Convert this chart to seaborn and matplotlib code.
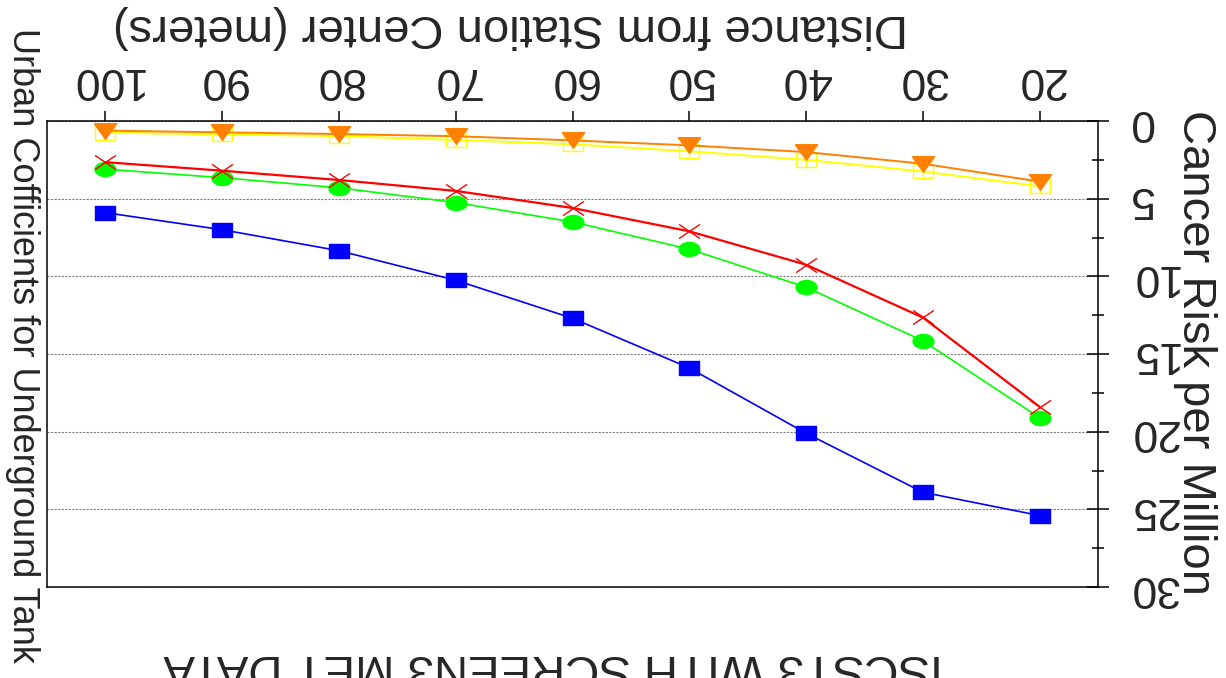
import matplotlib
matplotlib.use("Agg")
import matplotlib.pyplot as plt
import seaborn as sns
from matplotlib.path import Path
from matplotlib.transforms import Affine2D
from matplotlib.ticker import MultipleLocator

# ---------------- data ----------------
distance = [20, 30, 40, 50, 60, 70, 80, 90, 100]
risk_blue = [25.4, 23.9, 20.1, 15.9, 12.7, 10.25, 8.35, 7.0, 5.9]
risk_green = [19.1, 14.15, 10.7, 8.25, 6.5, 5.25, 4.3, 3.65, 3.1]
risk_red = [18.4, 12.65, 9.25, 7.1, 5.6, 4.5, 3.8, 3.2, 2.65]
risk_yellow = [4.2, 3.25, 2.5, 1.95, 1.5, 1.22, 0.97, 0.86, 0.75]
risk_orange = [3.9, 2.75, 2.0, 1.57, 1.25, 0.98, 0.84, 0.73, 0.62]

x_ticks = [20, 30, 40, 50, 60, 70, 80, 90, 100]
y_ticks = [0, 5, 10, 15, 20, 25, 30]

title_text = "ISCST3 WITH SCREEN3 MET DATA"
subtitle_text = "Urban Cofficients for Underground Tank"
x_label = "Distance from Station Center (meters)"
y_label = "Cancer Risk per Million"

# ---------------- style ----------------
sns.set_style("white")
plt.rcParams["font.family"] = ["Liberation Sans", "DejaVu Sans"]

W, H = 1226, 678
fig = plt.figure(figsize=(W / 100, H / 100), dpi=100)
ax = fig.add_axes([47 / W, 1 - 587 / H, (1098 - 47) / W, (587 - 121) / H])

M, L, C = Path.MOVETO, Path.LINETO, Path.CLOSEPOLY
square = Path([(-1, -0.72), (1, -0.72), (1, 0.72), (-1, 0.72), (-1, -0.72)], [M, L, L, L, C])
box_cross = Path([(-1, -0.7), (1, -0.7), (1, 0.7), (-1, 0.7), (-1, -0.7), (0, -0.7), (0, 0.7)],
                 [M, L, L, L, C, M, L])
x_mark = Path([(-1, -0.68), (1, 0.68), (-1, 0.68), (1, -0.68)], [M, L, M, L])
ellipse = Path.unit_circle().transformed(Affine2D().scale(1, 0.68))
tri_down = Path([(-1, 0.7), (1, 0.7), (0, -0.7), (-1, 0.7)], [M, L, L, C])

series = [
    (risk_blue, "#0000ff", square, 15, "#0000ff", 1.2, 3),
    (risk_green, "#00ff00", ellipse, 15, "#00ff00", 1.2, 4),
    (risk_red, "#ff0000", x_mark, 15, "none", 1.6, 5),
    (risk_yellow, "#ffff00", box_cross, 15, "none", 1.4, 6),
    (risk_orange, "#ff8000", tri_down, 16, "#ff8000", 1.4, 7),
]
for vals, col, mk, ms, mfc, lw, z in series:
    sns.lineplot(x=distance, y=vals, ax=ax, color=col, lw=lw, marker=mk,
                 markersize=ms, markerfacecolor=mfc, markeredgecolor=col,
                 markeredgewidth=1.0, zorder=z)

ax.set_xlim(105, 15)
ax.set_ylim(30, 0)
ax.set_xlabel("")
ax.set_ylabel("")

ax.xaxis.tick_top()
ax.yaxis.tick_right()
ax.set_xticks(x_ticks)
ax.set_xticklabels([str(v) for v in x_ticks], rotation=180)
ax.set_yticks(y_ticks)
ax.set_yticklabels([str(v) for v in y_ticks], rotation=180, va="center")
ax.yaxis.set_minor_locator(MultipleLocator(2.5))

ax.tick_params(axis="x", which="major", direction="out", length=7, width=1.1,
               pad=8, labelsize=32, top=True, bottom=False,
               labeltop=True, labelbottom=False, color="black")
ax.tick_params(axis="x", which="minor", top=False, bottom=False)
ax.tick_params(axis="y", which="major", direction="inout", length=16, width=1.1,
               pad=14, labelsize=32, right=True, left=False,
               labelright=True, labelleft=False, color="black")
ax.tick_params(axis="y", which="minor", direction="inout", length=8.5, width=1.1,
               right=True, left=False, color="black")

ax.set_axisbelow(True)
ax.grid(False)
ax.yaxis.grid(True, which="major", linestyle=(0, (2, 1.2)), color="#808080", lw=0.8)

for sp in ax.spines.values():
    sp.set_visible(True)
    sp.set_color("black")
    sp.set_linewidth(1.1)

def fx(px):
    return px / W

def fy(py):
    return 1 - py / H

fig.text(fx(510), fy(15), x_label, rotation=180, rotation_mode="anchor",
         ha="center", va="baseline", fontsize=34)
fig.text(fx(1183), fy(353), y_label, rotation=-90, rotation_mode="anchor",
         ha="center", va="baseline", fontsize=34)
fig.text(fx(13), fy(345), subtitle_text, rotation=-90, rotation_mode="anchor",
         ha="center", va="baseline", fontsize=26)
fig.text(fx(553), fy(655), title_text, rotation=180, rotation_mode="anchor",
         ha="center", va="baseline", fontsize=34)

fig.savefig("out.png", dpi=100)
